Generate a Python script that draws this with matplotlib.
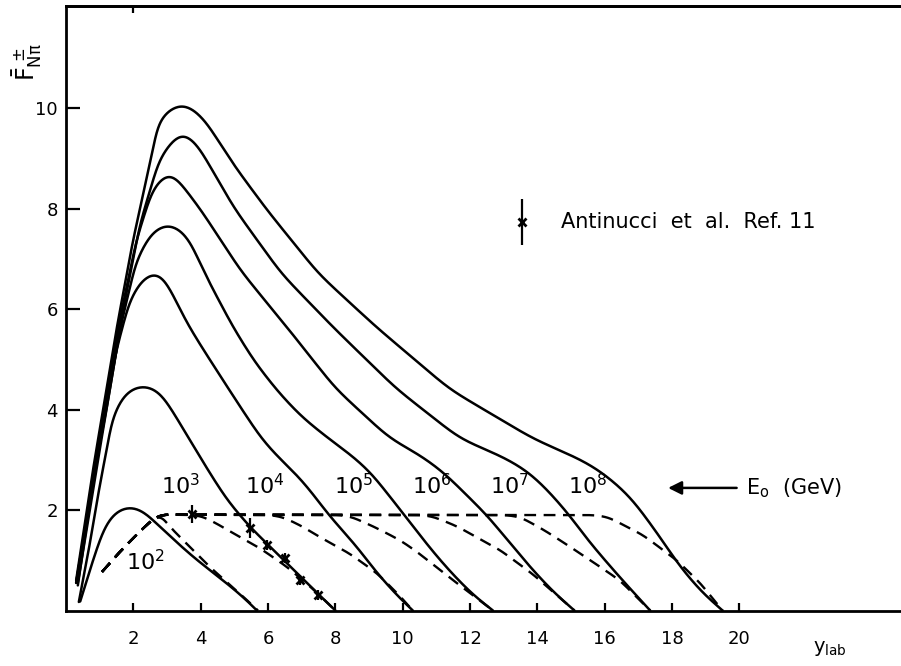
import numpy as np
import matplotlib
matplotlib.use("Agg")
import matplotlib.pyplot as plt

plt.rcParams['font.family'] = ['DejaVu Sans']
plt.rcParams['mathtext.default'] = 'regular'

# Solid curves (E0 = 10^2 ... 10^8)
energies = ['10^{2}', '10^{3}', '10^{4}', '10^{5}', '10^{6}', '10^{7}', '10^{8}']

x_e2 = [0.42, 0.8, 1.1, 1.4, 1.85, 2.2, 2.79, 3.78, 4.78, 5.37, 5.67]
y_e2 = [0.18, 1.0, 1.6, 1.97, 2.12, 2.06, 1.66, 1.06, 0.54, 0.21, 0.0]

x_e3 = [0.38, 0.7, 0.95, 1.4, 1.8, 2.26, 2.7, 3.09, 3.78, 4.22, 4.78, 5.46, 5.97, 6.5, 6.95, 7.49, 8.0]
y_e3 = [0.17, 1.3, 2.3, 3.9, 4.4, 4.52, 4.44, 4.05, 3.28, 2.79, 2.2, 1.66, 1.33, 0.98, 0.68, 0.33, 0.0]

x_e4 = [0.35, 0.85, 1.15, 1.5, 1.9, 2.3, 2.73, 3.09, 3.59, 4.07, 5.08, 5.8, 6.3, 6.86, 7.3, 7.8, 8.64, 9.24, 9.9, 10.3]
y_e4 = [0.5, 2.8, 4.0, 5.2, 6.2, 6.65, 6.8, 6.4, 5.72, 5.2, 4.15, 3.42, 3.05, 2.7, 2.35, 1.9, 1.27, 0.74, 0.25, 0.0]

x_e5 = [0.35, 0.9, 1.2, 1.6, 2.1, 2.6, 3.09, 3.59, 4.2, 4.96, 5.6, 6.3, 7.0, 7.84, 8.5, 9.05, 10.05, 10.8, 11.4, 12.1, 12.68]
y_e5 = [0.55, 2.8, 4.0, 5.6, 7.0, 7.6, 7.75, 7.48, 6.6, 5.64, 4.95, 4.35, 3.85, 3.4, 3.08, 2.75, 1.9, 1.25, 0.78, 0.3, 0.0]

x_e6 = [0.3, 0.85, 1.15, 1.6, 2.1, 2.6, 3.09, 4.0, 5.2, 6.56, 8.0, 9.62, 10.5, 11.2, 12.5, 13.3, 13.87, 14.5, 15.1]
y_e6 = [0.55, 2.8, 4.0, 5.8, 7.4, 8.45, 8.78, 7.98, 6.75, 5.64, 4.42, 3.42, 3.1, 2.76, 1.9, 1.25, 0.8, 0.35, 0.0]

x_e7 = [0.3, 0.85, 1.2, 1.7, 2.2, 2.8, 3.45, 3.9, 5.0, 6.4, 7.93, 9.8, 11.7, 13.0, 13.7, 14.3, 14.95, 15.5, 16.2, 16.8, 17.35]
y_e7 = [0.55, 2.8, 4.0, 6.0, 7.7, 9.05, 9.58, 9.28, 8.0, 6.7, 5.64, 4.42, 3.42, 3.05, 2.78, 2.4, 1.9, 1.4, 0.85, 0.4, 0.0]

x_e8 = [0.3, 0.8, 1.1, 1.51, 1.99, 2.4, 2.79, 3.47, 4.07, 5.0, 5.97, 7.5, 9.2, 11.4, 13.87, 15.3, 15.86, 16.55, 16.95, 17.6, 18.24, 18.9, 19.5]
y_e8 = [0.6, 2.8, 4.0, 5.64, 7.37, 8.62, 9.85, 10.15, 9.82, 8.85, 7.97, 6.7, 5.65, 4.4, 3.42, 3.0, 2.78, 2.4, 2.1, 1.5, 0.87, 0.35, 0.0]

solid_x = [x_e2, x_e3, x_e4, x_e5, x_e6, x_e7, x_e8]
solid_y = [y_e2, y_e3, y_e4, y_e5, y_e6, y_e7, y_e8]

# Dashed curves: shared rise and plateau, then each one's tail
dash_rise_x = [1.07, 1.6, 2.2, 2.6, 2.8]
dash_rise_y = [0.77, 1.17, 1.58, 1.83, 1.91]
dash_tail_x = [
    [3.09, 4.28, 5.37, 5.7],
    [3.85, 4.07, 4.5, 4.96, 5.76, 6.56, 7.3, 8.0],
    [6.1, 6.44, 7.0, 7.54, 8.43, 9.24, 9.9, 10.3],
    [8.2, 8.5, 9.2, 9.92, 10.4, 11.5, 12.1, 12.68],
    [10.6, 10.9, 11.6, 12.3, 12.9, 13.87, 14.5, 15.1],
    [13.1, 13.5, 14.2, 14.9, 15.86, 16.45, 16.9, 17.35],
    [15.7, 16.1, 17.14, 18.14, 18.83, 19.5],
]
dash_tail_y = [
    [1.66, 0.86, 0.21, 0.0],
    [1.9, 1.87, 1.72, 1.54, 1.24, 0.87, 0.45, 0.0],
    [1.9, 1.86, 1.68, 1.46, 1.13, 0.74, 0.3, 0.0],
    [1.9, 1.86, 1.65, 1.4, 1.18, 0.6, 0.3, 0.0],
    [1.9, 1.87, 1.68, 1.42, 1.2, 0.72, 0.35, 0.0],
    [1.9, 1.86, 1.6, 1.3, 0.87, 0.6, 0.3, 0.0],
    [1.9, 1.86, 1.5, 1.0, 0.55, 0.0],
]

# Antinucci et al. data
data_x = [3.74, 5.46, 5.96, 6.5, 6.95, 7.49]
data_y = [1.92, 1.64, 1.3, 1.04, 0.61, 0.31]
data_err = [0.18, 0.2, 0.1, 0.1, 0.1, 0.1]

label_x = [2.35, 3.39, 5.9, 8.55, 10.85, 13.16, 15.5]
label_y = [0.98, 2.48, 2.48, 2.48, 2.48, 2.48, 2.48]

XLIM = (0, 24.8)
YLIM = (0, 12.03)
PX_X = 33.67   # pixels per x unit in the output
PX_Y = 50.25   # pixels per y unit


def smooth_path(xs, ys, sigma):
    # resample the polyline every pixel along its length, then gaussian-smooth it
    p = np.column_stack([np.asarray(xs, float) * PX_X, np.asarray(ys, float) * PX_Y])
    seg = np.hypot(*np.diff(p, axis=0).T)
    s = np.concatenate([[0], np.cumsum(seg)])
    t = np.append(np.arange(0, s[-1], 1.0), s[-1])
    X = np.interp(t, s, p[:, 0])
    Y = np.interp(t, s, p[:, 1])
    n = int(3 * sigma)
    k = np.exp(-0.5 * (np.arange(-n, n + 1) / sigma) ** 2)
    k /= k.sum()

    def sm(v):
        left = 2 * v[0] - v[1:n + 1][::-1]
        right = 2 * v[-1] - v[-n - 1:-1][::-1]
        return np.convolve(np.concatenate([left, v, right]), k, mode='valid')

    return sm(X) / PX_X, sm(Y) / PX_Y


fig = plt.figure(figsize=(9.01, 6.66), dpi=100)
ax = fig.add_axes([0.0733, 0.0833, 0.9267, 0.9077])

for xs_, ys_ in zip(solid_x, solid_y):
    sx, sy = smooth_path(xs_, ys_, 13)
    ax.plot(sx, sy, color='black', lw=1.8, solid_capstyle='round')

for tx, ty in zip(dash_tail_x, dash_tail_y):
    sx, sy = smooth_path(dash_rise_x + tx, dash_rise_y + ty, 6)
    ax.plot(sx, sy, color='black', lw=1.7, dashes=(5, 3.2))

ax.errorbar(data_x, data_y, yerr=data_err, fmt='x', color='black', ms=6, mew=2,
            elinewidth=1.6, capsize=0)

for lab, lx, ly in zip(energies, label_x, label_y):
    ax.text(lx, ly, '$' + lab + '$', fontsize=16, ha='center', va='center')

# legend entry
ax.errorbar([13.55], [7.73], yerr=[0.45], fmt='x', color='black', ms=6, mew=2,
            elinewidth=1.6, capsize=0)
ax.text(14.7, 7.73, 'Antinucci  et  al.  Ref. 11', fontsize=15, va='center')

ax.annotate('', xy=(17.8, 2.44), xytext=(20.0, 2.44),
            arrowprops=dict(arrowstyle='-|>', lw=1.8, color='black', mutation_scale=20))
ax.text(20.2, 2.44, r'E$_{\rm o}$  (GeV)', fontsize=15, va='center')

ax.set_xlim(*XLIM)
ax.set_ylim(*YLIM)
ax.set_xticks([2, 4, 6, 8, 10, 12, 14, 16, 18, 20])
ax.set_yticks([2, 4, 6, 8, 10])
ax.tick_params(axis='x', direction='in', length=6, width=1.6, labelsize=13, pad=14)
ax.tick_params(axis='y', direction='in', length=10, width=1.6, labelsize=13, pad=6)
for side in ['left', 'bottom', 'top']:
    ax.spines[side].set_linewidth(2)
ax.spines['right'].set_visible(False)

top = ax.secondary_xaxis('top')
top.set_xticks([2])
top.set_xticklabels([])
top.tick_params(direction='in', length=5, width=1.6)
top.spines['top'].set_linewidth(2)

fig.text(830 / 901, 1 - 648 / 666, r'y$_{\rm lab}$', fontsize=14, ha='center', va='center')
fig.text(27 / 901, 1 - 62 / 666, r'$\bar{F}_{N\pi}^{\,\pm}$', fontsize=17,
         rotation=90, ha='center', va='center')

fig.savefig('out.png', dpi=100)
